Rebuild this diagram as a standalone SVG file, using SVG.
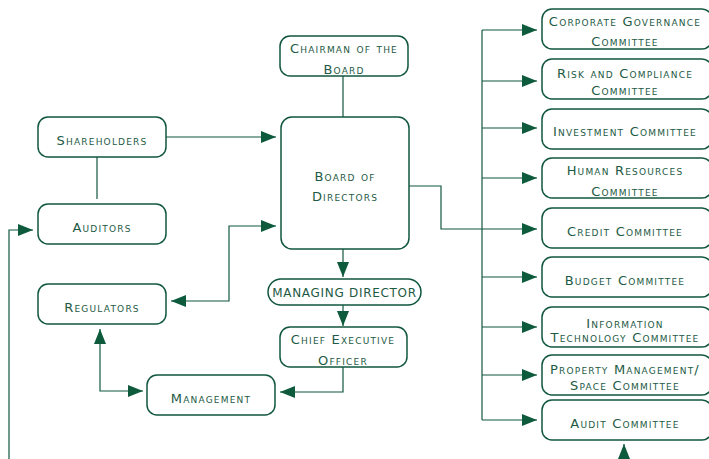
<svg xmlns="http://www.w3.org/2000/svg" width="709" height="459" viewBox="0 0 709 459">
<style>
.box{fill:#fff;stroke:#11573f;stroke-width:1.5}
.t{font-family:"DejaVu Sans","Liberation Sans",sans-serif;font-size:13px;font-variant:small-caps;letter-spacing:1.2px;fill:#1d5a44;text-anchor:middle}
.c{fill:none;stroke:#11573f;stroke-width:1.2}
</style>
<defs>
<marker id="ah" markerUnits="userSpaceOnUse" markerWidth="16" markerHeight="12" refX="15" refY="6" orient="auto-start-reverse">
<path d="M0,0 L15,6 L0,12 Z" fill="#0e5a3c"/>
</marker>
</defs>
<rect width="709" height="459" fill="#fff"/>
<g id="connectors">
<path class="c" d="M343,76 V117"/>
<path class="c" d="M97,157 V199"/>
<path class="c" d="M166,137 H276" marker-end="url(#ah)"/>
<path class="c" d="M9,459 V230 H33" marker-end="url(#ah)"/>
<path class="c" d="M171,301 H229 V226 H276" marker-start="url(#ah)" marker-end="url(#ah)"/>
<path class="c" d="M100,329 V391 H143" marker-start="url(#ah)" marker-end="url(#ah)"/>
<path class="c" d="M343,367 V392 H280" marker-end="url(#ah)"/>
<path class="c" d="M343,249 V277" marker-end="url(#ah)"/>
<path class="c" d="M343,305 V326" marker-end="url(#ah)"/>
<path class="c" d="M409,186 H441 V229 H537" marker-end="url(#ah)"/>
<path class="c" d="M482,30 V420"/>
<path class="c" d="M482,30 H537" marker-end="url(#ah)"/>
<path class="c" d="M482,81 H537" marker-end="url(#ah)"/>
<path class="c" d="M482,128 H537" marker-end="url(#ah)"/>
<path class="c" d="M482,178 H537" marker-end="url(#ah)"/>
<path class="c" d="M482,277 H537" marker-end="url(#ah)"/>
<path class="c" d="M482,327 H537" marker-end="url(#ah)"/>
<path class="c" d="M482,375 H537" marker-end="url(#ah)"/>
<path class="c" d="M482,420 H537" marker-end="url(#ah)"/>
<path class="c" d="M624,459 V444" marker-end="url(#ah)"/>
</g>
<g id="chairman"><rect class="box" x="280" y="36" width="128" height="40" rx="10"/><text class="t" x="344" y="53">Chairman of the</text><text class="t" x="344" y="74">Board</text></g>
<g id="board"><rect class="box" x="281" y="117" width="128" height="132" rx="11"/><text class="t" x="345" y="181">Board of</text><text class="t" x="345" y="201">Directors</text></g>
<g id="shareholders"><rect class="box" x="38" y="117" width="128" height="40" rx="10"/><text class="t" x="102" y="145">Shareholders</text></g>
<g id="auditors"><rect class="box" x="38" y="204" width="128" height="40" rx="10"/><text class="t" x="102" y="232">Auditors</text></g>
<g id="regulators"><rect class="box" x="38" y="284" width="128" height="40" rx="10"/><text class="t" x="102" y="312">Regulators</text></g>
<g id="management"><rect class="box" x="147" y="375" width="128" height="40" rx="10"/><text class="t" x="211" y="403">Management</text></g>
<g id="md"><rect class="box" x="268" y="279" width="153" height="26" rx="13"/><text class="t" x="344.5" y="297" style="font-variant:normal;font-size:12px;letter-spacing:0.7px">MANAGING DIRECTOR</text></g>
<g id="ceo"><rect class="box" x="280" y="327" width="127" height="40" rx="10"/><text class="t" x="343" y="344">Chief Executive</text><text class="t" x="343" y="365">Officer</text></g>
<g id="corp"><rect class="box" x="542" y="9" width="170" height="40" rx="10"/><text class="t" x="625" y="26">Corporate Governance</text><text class="t" x="625" y="46">Committee</text></g>
<g id="risk"><rect class="box" x="542" y="59" width="170" height="40" rx="10"/><text class="t" x="625" y="78">Risk and Compliance</text><text class="t" x="625" y="95">Committee</text></g>
<g id="invest"><rect class="box" x="542" y="109" width="170" height="40" rx="10"/><text class="t" x="625" y="136">Investment Committee</text></g>
<g id="hr"><rect class="box" x="542" y="158" width="170" height="40" rx="10"/><text class="t" x="625" y="175">Human Resources</text><text class="t" x="625" y="196">Committee</text></g>
<g id="credit"><rect class="box" x="542" y="208" width="170" height="40" rx="10"/><text class="t" x="625" y="236">Credit Committee</text></g>
<g id="budget"><rect class="box" x="542" y="257" width="170" height="40" rx="10"/><text class="t" x="625" y="285">Budget Committee</text></g>
<g id="it"><rect class="box" x="542" y="307" width="170" height="40" rx="10"/><text class="t" x="625" y="328">Information</text><text class="t" x="625" y="342">Technology Committee</text></g>
<g id="property"><rect class="box" x="542" y="355" width="170" height="40" rx="10"/><text class="t" x="625" y="374">Property Management/</text><text class="t" x="625" y="390">Space Committee</text></g>
<g id="audit"><rect class="box" x="542" y="400" width="170" height="40" rx="10"/><text class="t" x="625" y="428">Audit Committee</text></g>
</svg>
